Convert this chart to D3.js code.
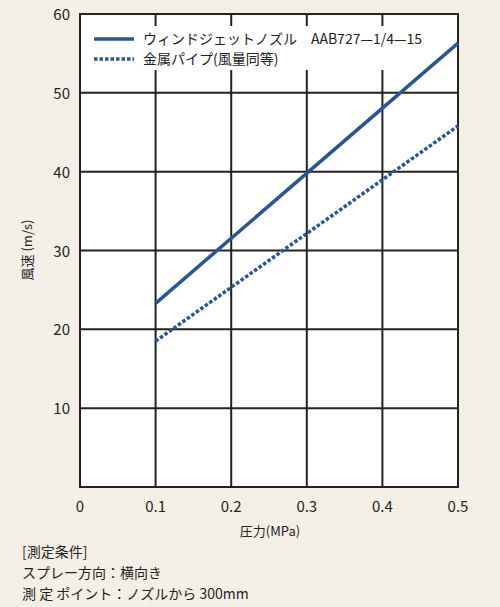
<!DOCTYPE html>
<html><head><meta charset="utf-8">
<script src="https://cdn.jsdelivr.net/npm/d3@7"></script>
<style>body{margin:0;background:#f3efe6;}text{font-family:"Noto Sans CJK JP",sans-serif;fill:#222;}</style>
</head><body><svg id="c" width="500" height="607"></svg>
<script>
var xTicks = [0, 0.1, 0.2, 0.3, 0.4, 0.5];
var yTicks = [0, 10, 20, 30, 40, 50, 60];
var pressure = [0.1, 0.5];
var nozzle = [23.3, 56.3];
var pipe = [18.5, 45.8];
var legendNames = ["ウィンドジェットノズル　AAB727—1/4—15", "金属パイプ(風量同等)"];
var notes = ["[測定条件]", "スプレー方向：横向き", "測 定 ポイント：ノズルから 300mm"];

var svg = d3.select("#c");
var x = d3.scaleLinear().domain([0, 0.5]).range([80, 458]);
var y = d3.scaleLinear().domain([0, 60]).range([487, 14]);
var col = "#2a5590";

svg.append("rect").attr("x", 80).attr("y", 14).attr("width", 378).attr("height", 473)
  .attr("fill", "#fff");
// grid
svg.append("g").selectAll("line").data(xTicks.slice(1, -1)).enter().append("line")
  .attr("x1", d => x(d)).attr("x2", d => x(d)).attr("y1", 14).attr("y2", 487)
  .attr("stroke", "#222").attr("stroke-width", 2);
svg.append("g").selectAll("line").data(yTicks.slice(1, -1)).enter().append("line")
  .attr("x1", 80).attr("x2", 458).attr("y1", d => y(d)).attr("y2", d => y(d))
  .attr("stroke", "#222").attr("stroke-width", 2);
// legend background
svg.append("rect").attr("x", 84).attr("y", 26).attr("width", 350).attr("height", 44).attr("fill", "#fff");
svg.append("rect").attr("x", 80).attr("y", 14).attr("width", 378).attr("height", 473)
  .attr("fill", "none").attr("stroke", "#222").attr("stroke-width", 2);

var series = [nozzle, pipe];
series.forEach(function(s, i) {
  svg.append("path")
    .attr("d", d3.line().x((d, j) => x(pressure[j])).y(d => y(d))(s))
    .attr("fill", "none").attr("stroke", col).attr("stroke-width", 3.5)
    .attr("stroke-dasharray", i ? "3.5,2" : null);
  svg.append("line").attr("x1", 94).attr("x2", 134).attr("y1", 39 + i * 20).attr("y2", 39 + i * 20)
    .attr("stroke", col).attr("stroke-width", 3.5).attr("stroke-dasharray", i ? "3.5,2" : null);
  svg.append("text").attr("x", 143).attr("y", 44 + i * 20).attr("font-size", 14).text(legendNames[i]);
});

svg.append("g").selectAll("text").data(xTicks).enter().append("text")
  .attr("x", d => x(d)).attr("y", 512).attr("text-anchor", "middle").attr("font-size", 15)
  .attr("font-family", "Liberation Sans").text(d => d);
svg.append("g").selectAll("text").data(yTicks.slice(1)).enter().append("text")
  .attr("x", 70).attr("y", d => y(d) + 6).attr("text-anchor", "end").attr("font-size", 15)
  .attr("font-family", "Liberation Sans").text(d => d);
svg.append("text").attr("x", 270).attr("y", 536).attr("text-anchor", "middle").attr("font-size", 13).text("圧力(MPa)");
svg.append("text").attr("transform", "translate(32,250) rotate(-90)").attr("text-anchor", "middle")
  .attr("font-size", 13).text("風速 (m/s)");
notes.forEach(function(t, i) {
  svg.append("text").attr("x", 22).attr("y", 557 + i * 21).attr("font-size", 14).text(t);
});
</script></body></html>
